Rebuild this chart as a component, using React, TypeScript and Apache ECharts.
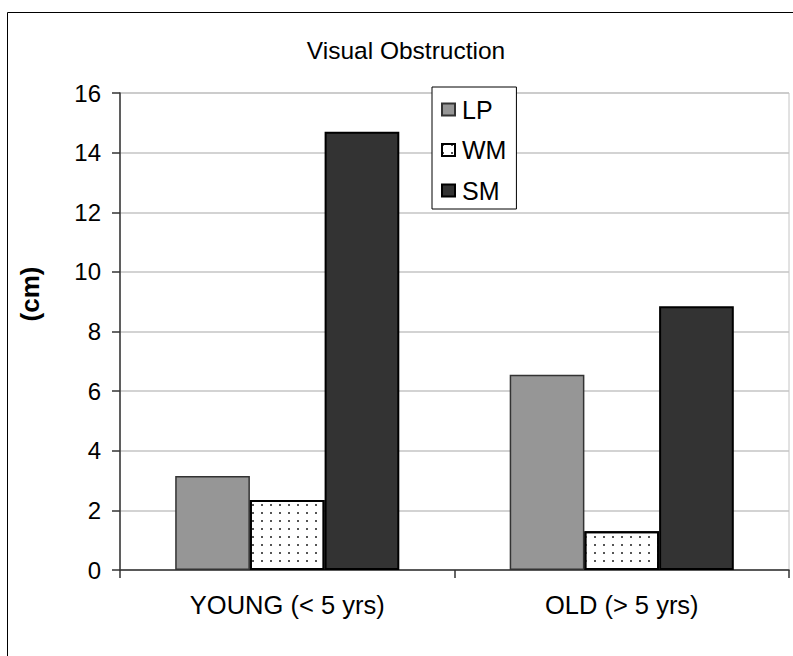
import React, { useEffect, useRef } from "react";
import * as echarts from "echarts";

// Age classes on the category axis
const categories = ["YOUNG (< 5 yrs)", "OLD (> 5 yrs)"];

// Visual obstruction per treatment (cm)
const lpValues = [3.15, 6.55];
const wmValues = [2.35, 1.3];
const smValues = [14.7, 8.85];

// Value axis range
const yMin = 0;
const yMax = 16;
const yStep = 2;

const FONT = "'Liberation Sans', Arial, Helvetica, sans-serif";

export default function App() {
  const ref = useRef<HTMLDivElement>(null);

  useEffect(() => {
    if (!ref.current) return;
    const chart = echarts.init(ref.current, null, { renderer: "svg" });

    const option: echarts.EChartsOption = {
      animation: false,
      backgroundColor: "#ffffff",
      textStyle: { fontFamily: FONT, color: "#000" },
      graphic: [
        {
          type: "rect",
          shape: { x: 7.5, y: 12.5, width: 900, height: 900 },
          style: { fill: "none", stroke: "#000", lineWidth: 1 },
          silent: true,
        },
        {
          type: "text",
          x: 406,
          y: 38,
          style: {
            text: "Visual Obstruction",
            font: `24.5px ${FONT}`,
            fill: "#000",
            align: "center",
            verticalAlign: "top",
          },
        },
        {
          type: "text",
          x: 30,
          y: 294,
          rotation: Math.PI / 2,
          style: {
            text: "(cm)",
            font: `bold 26px ${FONT}`,
            fill: "#000",
            align: "center",
            verticalAlign: "middle",
          },
        },
      ],
      legend: {
        orient: "vertical",
        left: 432,
        top: 87,
        padding: [10, 10, 6, 9],
        itemGap: 15.5,
        itemWidth: 13,
        itemHeight: 12,
        icon: "rect",
        backgroundColor: "#fff",
        borderColor: "#000",
        borderWidth: 1,
        borderRadius: 0,
        textStyle: {
          fontFamily: FONT,
          fontSize: 25,
          color: "#000",
          padding: [0, 0, 0, 2],
        },
        data: ["LP", "WM", "SM"],
      },
      grid: {
        left: 120,
        right: 4,
        top: 93,
        bottom: 86,
        show: true,
        borderColor: "#c4c4c4",
        borderWidth: 1,
      },
      xAxis: {
        type: "category",
        data: categories,
        axisLine: { lineStyle: { color: "#333", width: 1.5 } },
        axisTick: { show: true, length: 8, lineStyle: { color: "#333", width: 1.5 } },
        axisLabel: { fontFamily: FONT, fontSize: 25.5, color: "#000", margin: 22 },
        splitLine: { show: false },
      },
      yAxis: {
        type: "value",
        min: yMin,
        max: yMax,
        interval: yStep,
        axisLine: { show: true, lineStyle: { color: "#333", width: 1.5 } },
        axisTick: { show: true, length: 8, lineStyle: { color: "#333", width: 1.5 } },
        axisLabel: { fontFamily: FONT, fontSize: 24, color: "#000", margin: 19 },
        splitLine: { show: true, lineStyle: { color: "#c4c4c4", width: 1.5 } },
      },
      series: [
        {
          name: "LP",
          type: "bar",
          data: lpValues,
          barGap: "0%",
          barCategoryGap: "33%",
          itemStyle: { color: "#969696", borderColor: "#333", borderWidth: 1.5 },
        },
        {
          name: "WM",
          type: "bar",
          data: wmValues,
          barGap: "0%",
          barCategoryGap: "33%",
          itemStyle: {
            color: "#ffffff",
            borderColor: "#000",
            borderWidth: 2,
            decal: {
              symbol: "rect",
              symbolSize: 1,
              color: "#555",
              dashArrayX: [1.5, 6.5],
              dashArrayY: [1.5, 5.8],
              rotation: 0,
            },
          },
        },
        {
          name: "SM",
          type: "bar",
          data: smValues,
          barGap: "0%",
          barCategoryGap: "33%",
          itemStyle: { color: "#333333", borderColor: "#000", borderWidth: 2 },
        },
      ],
    };

    chart.setOption(option);
    return () => chart.dispose();
  }, []);

  return (
    <div
      ref={ref}
      style={{ position: "absolute", left: 0, top: 0, width: 793, height: 656 }}
    />
  );
}
